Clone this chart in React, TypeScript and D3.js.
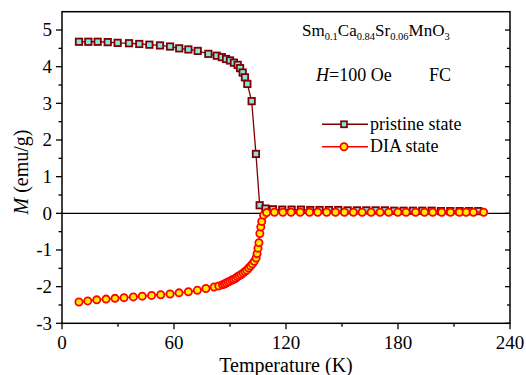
import { useEffect, useRef } from 'react'
import * as d3 from 'd3'

// pristine state (squares)
const pristineT = [9.1, 14.1, 19.1, 24.5, 29.8, 35.9, 41.4, 46.8, 52.5, 57.9, 62.8, 67.7, 72.7, 78.4, 82.9, 85.6, 87.9, 90, 92.1, 94.1, 95.4, 96.8, 98, 99.3, 101.6, 103.9, 105.9,
  109, 113, 118, 123, 128, 133, 138, 143, 148, 153, 158, 163, 168, 173, 178, 183, 188, 193, 198, 203, 208, 213, 218, 223]
const pristineM = [4.68, 4.68, 4.68, 4.67, 4.65, 4.64, 4.62, 4.6, 4.58, 4.55, 4.5, 4.47, 4.43, 4.35, 4.3, 4.26, 4.21, 4.17, 4.11, 4.05, 3.96, 3.84, 3.71, 3.53, 3.06, 1.62, 0.22,
  0.13, 0.11, 0.1, 0.1, 0.1, 0.09, 0.09, 0.09, 0.09, 0.08, 0.08, 0.08, 0.08, 0.08, 0.07, 0.07, 0.07, 0.07, 0.07, 0.06, 0.06, 0.06, 0.06, 0.06]

// DIA state (circles)
const diaT = [9.1, 13.8, 18.6, 23.6, 28.4, 33.2, 38.2, 43, 48, 52.9, 57.9, 62.7, 67.7, 72.5, 77.1, 81.5,
  84, 86, 87, 88, 89, 90, 91, 92, 93, 94, 95, 96, 97, 98, 99, 100, 101, 102, 103, 104, 104.5, 105, 105.5, 106, 106.5, 107, 108, 109.6,
  113.8, 118.3, 122.7, 127.6, 132.6, 137, 141.8, 146.5, 151.3, 156.1, 160.8, 165.6, 170.4, 175, 179.9, 184.3, 189.4, 194.2, 198.6, 203.4, 208.1, 212.9, 216.5, 220.4, 225.9]
const diaM = [-2.42, -2.39, -2.36, -2.34, -2.32, -2.3, -2.28, -2.26, -2.24, -2.22, -2.2, -2.17, -2.14, -2.1, -2.05, -2.01,
  -1.98, -1.95, -1.93, -1.9, -1.87, -1.85, -1.82, -1.8, -1.77, -1.73, -1.7, -1.67, -1.63, -1.59, -1.55, -1.49, -1.44, -1.38, -1.31, -1.22, -1.1, -0.95, -0.8, -0.55, -0.37, -0.22, -0.05, 0.02,
  0.03, 0.03, 0.03, 0.03, 0.03, 0.03, 0.03, 0.03, 0.03, 0.03, 0.03, 0.03, 0.03, 0.03, 0.03, 0.03, 0.03, 0.03, 0.03, 0.03, 0.03, 0.03, 0.03, 0.03, 0.03]

const xTicks = [0, 60, 120, 180, 240]
const xMinor = [30, 90, 150, 210]
const yTicks = [-3, -2, -1, 0, 1, 2, 3, 4, 5]
const yMinor = [-2.5, -1.5, -0.5, 0.5, 1.5, 2.5, 3.5, 4.5]

const FONT = 'Liberation Serif'

export default function App() {
  const svgRef = useRef<SVGSVGElement>(null)

  useEffect(() => {
    const width = 526
    const height = 375
    const left = 62
    const right = 510
    const top = 11.7
    const bottom = 323.3

    const x = d3.scaleLinear().domain([0, 240]).range([left, right])
    const y = d3.scaleLinear().domain([-3, 5.5]).range([bottom, top])

    const svg = d3.select(svgRef.current)
    svg.selectAll('*').remove()
    svg.attr('width', width).attr('height', height)

    // zero line
    svg.append('line')
      .attr('x1', left).attr('x2', right)
      .attr('y1', y(0)).attr('y2', y(0))
      .attr('stroke', '#000').attr('stroke-width', 1.2)

    const pristine = pristineT.map((t, i) => [t, pristineM[i]])
    const dia = diaT.map((t, i) => [t, diaM[i]])
    const line = d3.line<number[]>().x(d => x(d[0])).y(d => y(d[1]))

    svg.append('path').datum(pristine)
      .attr('d', line).attr('fill', 'none')
      .attr('stroke', '#800000').attr('stroke-width', 1.3)
    svg.append('g').selectAll('rect').data(pristine).join('rect')
      .attr('x', d => x(d[0]) - 3.2).attr('y', d => y(d[1]) - 3.2)
      .attr('width', 6.4).attr('height', 6.4)
      .attr('fill', '#80e6e6').attr('stroke', '#800000').attr('stroke-width', 1.8)

    svg.append('path').datum(dia)
      .attr('d', line).attr('fill', 'none')
      .attr('stroke', '#ff0000').attr('stroke-width', 1.3)
    svg.append('g').selectAll('circle').data(dia).join('circle')
      .attr('cx', d => x(d[0])).attr('cy', d => y(d[1]))
      .attr('r', 3.6)
      .attr('fill', '#ffee00').attr('stroke', '#ff0000').attr('stroke-width', 1.8)

    // frame
    svg.append('rect')
      .attr('x', left).attr('y', top)
      .attr('width', right - left).attr('height', bottom - top)
      .attr('fill', 'none').attr('stroke', '#000').attr('stroke-width', 1.5)

    // bottom ticks (outward)
    const ax = svg.append('g').attr('stroke', '#000').attr('stroke-width', 1.3)
    xTicks.forEach(t => ax.append('line').attr('x1', x(t)).attr('x2', x(t)).attr('y1', bottom).attr('y2', bottom + 6))
    xMinor.forEach(t => ax.append('line').attr('x1', x(t)).attr('x2', x(t)).attr('y1', bottom).attr('y2', bottom + 3.5))
    // left ticks (outward), right ticks (inward)
    yTicks.forEach(t => {
      ax.append('line').attr('x1', left - 6).attr('x2', left).attr('y1', y(t)).attr('y2', y(t))
      ax.append('line').attr('x1', right - 5).attr('x2', right).attr('y1', y(t)).attr('y2', y(t))
    })
    yMinor.forEach(t => {
      ax.append('line').attr('x1', left - 3.5).attr('x2', left).attr('y1', y(t)).attr('y2', y(t))
      ax.append('line').attr('x1', right - 3).attr('x2', right).attr('y1', y(t)).attr('y2', y(t))
    })

    svg.append('g').selectAll('text').data(xTicks).join('text')
      .attr('x', d => x(d)).attr('y', 349)
      .attr('text-anchor', 'middle')
      .attr('font-family', FONT).attr('font-size', 19)
      .text(d => d)
    svg.append('g').selectAll('text').data(yTicks).join('text')
      .attr('x', 52).attr('y', d => y(d)).attr('dy', '0.34em')
      .attr('text-anchor', 'end')
      .attr('font-family', FONT).attr('font-size', 19)
      .text(d => d)

    svg.append('text')
      .attr('x', (left + right) / 2).attr('y', 372)
      .attr('text-anchor', 'middle')
      .attr('font-family', FONT).attr('font-size', 20)
      .text('Temperature (K)')

    const yt = svg.append('text')
      .attr('transform', `translate(28,172) rotate(-90)`)
      .attr('text-anchor', 'middle')
      .attr('font-family', FONT).attr('font-size', 20)
    yt.append('tspan').attr('font-style', 'italic').text('M')
    yt.append('tspan').text(' (emu/g)')

    // formula
    const f = svg.append('text').attr('x', 302).attr('y', 36)
      .attr('font-family', FONT).attr('font-size', 17)
    const parts: [string, string][] = [['Sm', '0.1'], ['Ca', '0.84'], ['Sr', '0.06'], ['MnO', '3']]
    parts.forEach(([el, sub], i) => {
      f.append('tspan').attr('dy', i === 0 ? 0 : -4).text(el)
      f.append('tspan').attr('dy', 4).attr('font-size', 10.5).text(sub)
    })

    const h = svg.append('text').attr('x', 316).attr('y', 81)
      .attr('font-family', FONT).attr('font-size', 18)
    h.append('tspan').attr('font-style', 'italic').text('H')
    h.append('tspan').text('=100 Oe')
    svg.append('text').attr('x', 429).attr('y', 81)
      .attr('font-family', FONT).attr('font-size', 18)
      .text('FC')

    // legend
    const lg = svg.append('g')
    lg.append('line').attr('x1', 322).attr('x2', 368).attr('y1', 124.3).attr('y2', 124.3)
      .attr('stroke', '#800000').attr('stroke-width', 1.5)
    lg.append('rect').attr('x', 341).attr('y', 121.3).attr('width', 6).attr('height', 6)
      .attr('fill', '#80e6e6').attr('stroke', '#800000').attr('stroke-width', 1.7)
    lg.append('text').attr('x', 370).attr('y', 129.5)
      .attr('font-family', FONT).attr('font-size', 18).text('pristine state')
    lg.append('line').attr('x1', 322).attr('x2', 368).attr('y1', 146.7).attr('y2', 146.7)
      .attr('stroke', '#ff0000').attr('stroke-width', 1.5)
    lg.append('circle').attr('cx', 344).attr('cy', 146.7).attr('r', 3.6)
      .attr('fill', '#ffee00').attr('stroke', '#ff0000').attr('stroke-width', 1.8)
    lg.append('text').attr('x', 370).attr('y', 152)
      .attr('font-family', FONT).attr('font-size', 18).text('DIA state')
  }, [])

  return (
    <svg ref={svgRef} style={{ position: 'absolute', left: 0, top: 0, background: '#fff' }}></svg>
  )
}
